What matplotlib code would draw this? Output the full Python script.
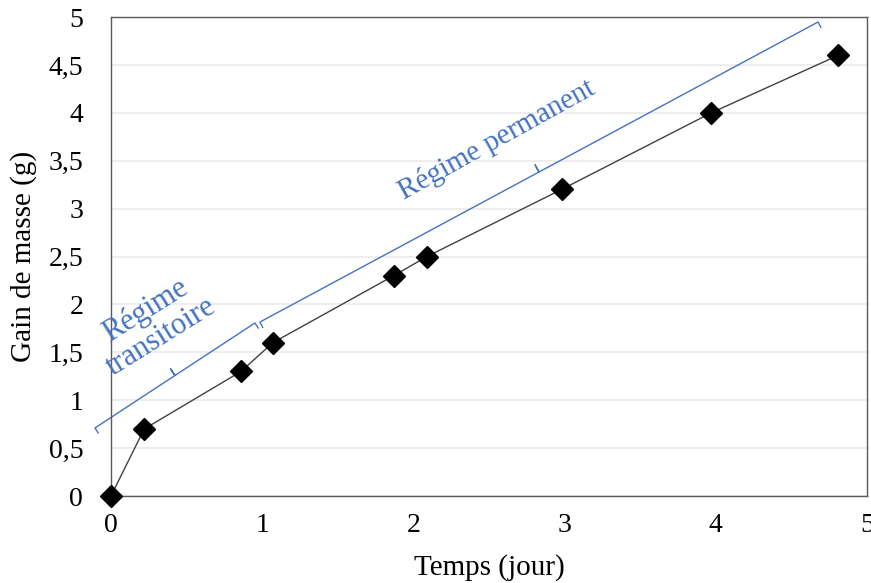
import matplotlib.pyplot as plt
import numpy as np

# data
temps = [0, 0.22, 0.86, 1.07, 1.87, 2.09, 2.98, 3.97, 4.81]
gain = [0, 0.7, 1.3, 1.6, 2.3, 2.5, 3.2, 4.0, 4.6]
x_ticks = [0, 1, 2, 3, 4, 5]
y_ticks = [0, 0.5, 1, 1.5, 2, 2.5, 3, 3.5, 4, 4.5, 5]
y_labels = ["0", "0,5", "1", "1,5", "2", "2,5", "3", "3,5", "4", "4,5", "5"]

# brace ends (data coords)
brace_trans = [(-0.106, 0.71), (0.952, 1.806)]
brace_perm = [(0.985, 1.816), (4.676, 4.948)]

blue = "#4472C4"
plt.rcParams['font.family'] = ['Liberation Serif', 'DejaVu Serif']

fig = plt.figure(figsize=(8.71, 5.83), dpi=100)
ax = fig.add_axes([0.1274, 0.1492, 0.868, 0.8216])

ax.plot(temps, gain, color="#404040", lw=1, marker="D", ms=11,
        mfc="black", mec="black", zorder=3, clip_on=False)

ax.set_xlim(0, 5)
ax.set_ylim(0, 5)
ax.set_xticks(x_ticks)
ax.set_yticks(y_ticks)
ax.set_yticklabels(y_labels)
ax.tick_params(length=0, labelsize=20, colors="black")
ax.tick_params(axis="y", pad=20)
ax.tick_params(axis="x", pad=12)
ax.grid(axis="y", color="#EBEBEB", lw=1.2)
ax.set_axisbelow(True)
for s in ax.spines.values():
    s.set_color("#595959")
    s.set_linewidth(1)

ax.set_xlabel("Temps (jour)", fontsize=21, labelpad=12)
ax.set_ylabel("Gain de masse (g)", fontsize=21, labelpad=8)


def brace(p0, p1, hook=6, tip=8):
    # draw a bracket in display space so the hooks stay perpendicular
    a = ax.transData.transform(p0)
    b = ax.transData.transform(p1)
    d = (b - a) / np.linalg.norm(b - a)
    n = np.array([d[1], -d[0]])  # points down-right, toward the data
    m = (a + b) / 2
    pts = [a + n * hook, a, m, m - n * tip, m, b, b + n * hook]
    pts = ax.transData.inverted().transform(np.array(pts))
    ax.plot(pts[:, 0], pts[:, 1], color=blue, lw=1, clip_on=False, zorder=2)


brace(*brace_trans)
brace(*brace_perm)

ax.text(0.28, 1.80, "Régime\ntransitoire", color=blue, fontsize=22,
        rotation=32, ha="center", va="center", rotation_mode="anchor",
        multialignment="center", linespacing=1.05)
ax.text(2.55, 3.72, "Régime permanent", color=blue, fontsize=21,
        rotation=29, ha="center", va="center", rotation_mode="anchor")

fig.savefig("out.png", dpi=100)
